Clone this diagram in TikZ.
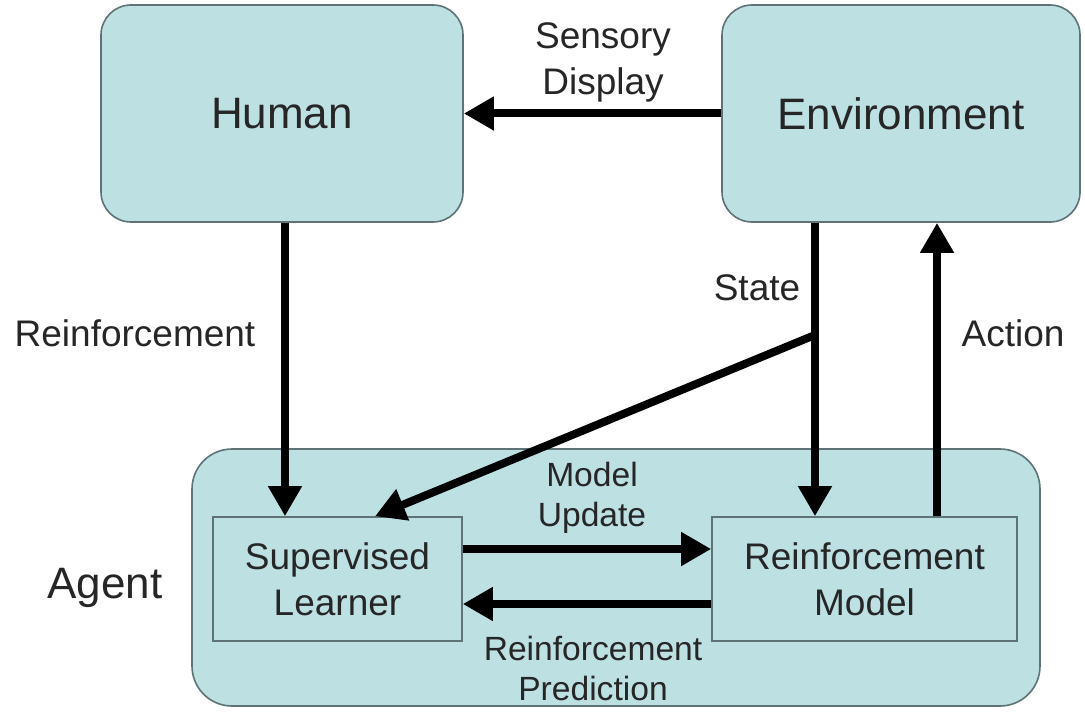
\documentclass[tikz,border=0pt]{standalone}
\usepackage{fontspec}
\setmainfont{Liberation Sans}
\usetikzlibrary{arrows.meta}

\definecolor{boxfill}{RGB}{189,224,227}
\definecolor{boxline}{RGB}{95,115,118}

\begin{document}
\begin{tikzpicture}[x=0.5pt, y=-0.5pt, arr/.style={-{Triangle[length=15pt, width=16pt]}, line width=4pt}]
	\tikzstyle{bigBox} = [draw=boxline, fill=boxfill, line width=0.8pt, rounded corners=15pt, text=black!85, font=\fontsize{22}{26}\selectfont]
	\tikzstyle{innerBox} = [draw=boxline, fill=boxfill, line width=0.8pt, align=center, text=black!85, font=\fontsize{18.5}{23}\selectfont]
	\tikzstyle{txtLabel} = [align=center, text=black!85, font=\fontsize{18.5}{23}\selectfont]
	\tikzstyle{smallLabel} = [align=center, text=black!85, font=\fontsize{16.8}{20}\selectfont]
	\useasboundingbox (0,0) rectangle (1085,711);
	% boxes
	\node[bigBox, minimum width=181pt, minimum height=108.5pt] (human) at (282,113.5) {Human};
	\node[bigBox, minimum width=179pt, minimum height=108.5pt] (env) at (901,113.5) {Environment};
	\node[bigBox, rounded corners=20pt, minimum width=424pt, minimum height=128.5pt] (agent) at (616,577.5) {};
	\node[innerBox, minimum width=124.5pt, minimum height=62pt] (sup) at (337.5,579) {Supervised\\Learner};
	\node[innerBox, minimum width=152.5pt, minimum height=62pt] (rm) at (864.5,579) {Reinforcement\\Model};
	\node[text=black!85, font=\fontsize{22}{26}\selectfont] (agentText) at (105,588) {Agent};
	% connectors
	\coordinate (stateTop) at ([xshift=-43pt]env.south);
	\coordinate (actTop) at ([xshift=18pt]env.south);
	\coordinate (branch) at (815,335);
	\draw[arr] (env.west) -- (human.east);
	\draw[arr] ([xshift=1.5pt]human.south) -- ([xshift=1.5pt]human.south |- sup.north);
	\draw[arr] (stateTop) -- (stateTop |- rm.north);
	\draw[arr] (branch) -- ([xshift=18.75pt]sup.north);
	\draw[arr] (actTop |- rm.north) -- (actTop);
	\draw[arr] ([yshift=15pt]sup.east) -- ([yshift=15pt]rm.west);
	\draw[arr] ([yshift=-12.5pt]rm.west) -- ([yshift=-12.5pt]sup.east);
	% labels
	\node[txtLabel] (sensory) at (603,62) {Sensory\\Display};
	\node[txtLabel] (reinf) at (135,333) {Reinforcement};
	\node[txtLabel] (state) at (757,288) {State};
	\node[txtLabel] (action) at (1013,333) {Action};
	\node[smallLabel] (update) at (592,498) {Model\\Update};
	\node[smallLabel] (predict) at (593,668) {Reinforcement\\Prediction};
\end{tikzpicture}
\end{document}
